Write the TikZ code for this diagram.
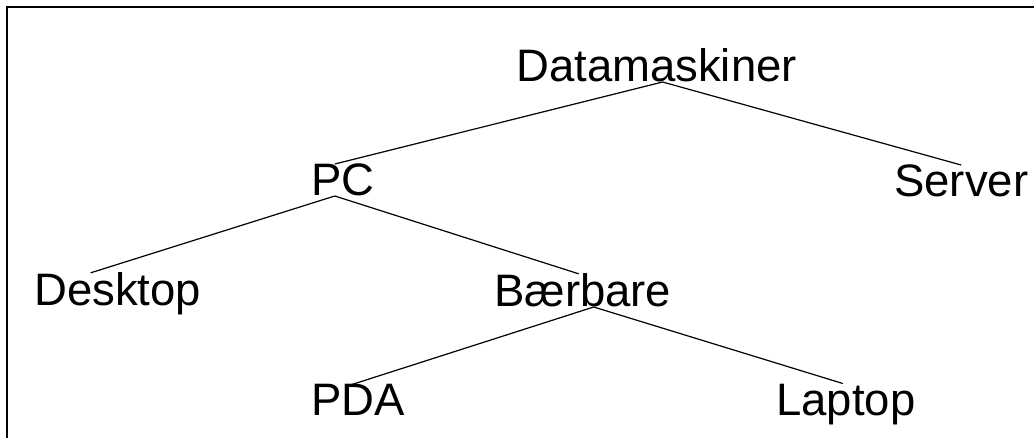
\documentclass[tikz,border=0pt]{standalone}
\usepackage{fontspec}
\setmainfont{Liberation Sans}

\begin{document}
\begin{tikzpicture}[x=1pt,y=-1pt,
  word/.style={font=\fontsize{45.5}{54}\selectfont,inner sep=0pt,anchor=base west}]
  \useasboundingbox (0,0) rectangle (1034,438);
  \draw[line width=2.4pt] (7,438) -- (7,7) -- (1034,7);

  \node[word] (dm)  at (516,82)  {Datamaskiner};
  \node[word] (pc)  at (311,196) {PC};
  \node[word] (srv) at (894,197) {Server};
  \node[word] (dsk) at (34,306)  {Desktop};
  \node[word] (brb) at (494,307) {Bærbare};
  \node[word] (pda) at (311,416) {PDA};
  \node[word] (lap) at (776,415) {Laptop};

  \path[line width=1.2pt]
  ([xshift=6pt]dm.base)   edge ([xshift=-8pt]pc.north)
  ([xshift=6pt]dm.base)   edge (srv.north)
  ([xshift=-8pt]pc.base)  edge ([xshift=-27pt]dsk.north)
  ([xshift=-8pt]pc.base)  edge ([xshift=-4pt]brb.north)
  ([xshift=11pt]brb.base) edge ([xshift=-6pt]pda.north)
  ([xshift=11pt]brb.base) edge ([xshift=-3pt]lap.north);
\end{tikzpicture}
\end{document}
